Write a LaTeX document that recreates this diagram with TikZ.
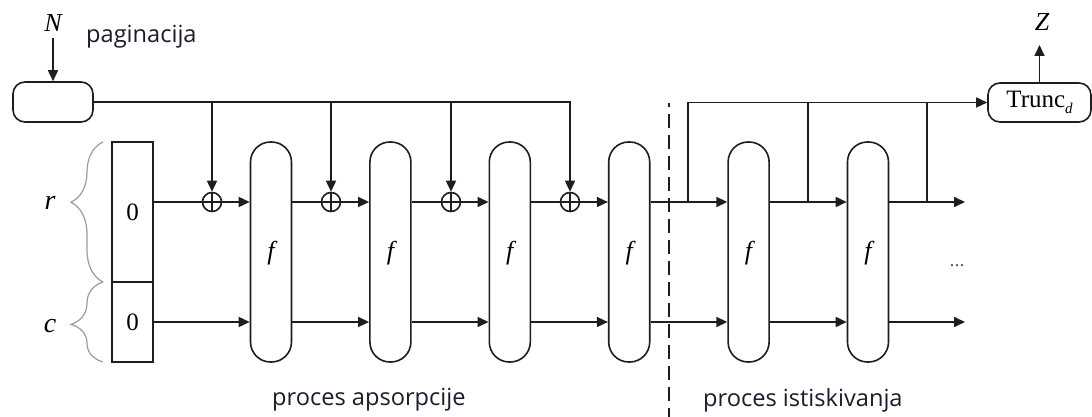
\documentclass[tikz,border=0pt]{standalone}
\usepackage{fontspec}
\setmainfont{Liberation Serif}
\newfontfamily\tms{Liberation Serif}
\newfontfamily\labfont{Open Sans}
\usetikzlibrary{arrows.meta,decorations.pathreplacing}
\definecolor{ink}{HTML}{1E1E1E}
\definecolor{txt}{HTML}{1C1C2C}
\definecolor{bracegray}{HTML}{9C9C9C}
\tikzset{
  ln/.style={draw=ink, line width=1.6pt},
  arr/.style={ln, -{Triangle[length=11pt,width=10pt]}},
  capsule/.style={ln, rectangle, rounded corners=20pt, minimum width=41pt, minimum height=220pt, inner sep=0pt},
  regcell/.style={ln, rectangle, minimum width=41pt, inner sep=0pt},
  pbox/.style={ln, rectangle, rounded corners=12pt, inner sep=0pt},
  xorc/.style={ln, circle, minimum size=19pt, inner sep=0pt,
    path picture={\draw[ink, line width=1.2pt] (path picture bounding box.north) -- (path picture bounding box.south)
      (path picture bounding box.west) -- (path picture bounding box.east);}},
  sym/.style={inner sep=0pt, font=\tms\fontsize{25}{25}\selectfont},
  isym/.style={inner sep=0pt, font=\tms\itshape\fontsize{26}{26}\selectfont},
  lab/.style={inner sep=0pt, anchor=base west, text=txt, font=\labfont\fontsize{23.6}{24}\selectfont},
  brc/.style={draw=bracegray, line width=1.2pt, decorate},
}
\begin{document}
\begin{tikzpicture}[x=1pt,y=-1pt]
\useasboundingbox[fill=white] (0,0) rectangle (1092,417);

% top boxes
\node[pbox, minimum width=80pt, minimum height=40pt] (pad) at (53,102) {};
\node[pbox, minimum width=103pt, minimum height=39pt, font=\tms\fontsize{25}{25}\selectfont] (trunc) at (1039.5,102.5) {Trunc\raisebox{-0.25em}{\fontsize{15}{15}\selectfont\itshape d}};
\node[isym] (N) at (53,23) {N};
\node[isym] (Z) at (1042,22) {Z};
\coordinate (nstart) at (53,38);
\coordinate (zend) at (1039.5,45);
\node[lab] (pag) at (86,43) {paginacija};

% register
\node[regcell, minimum height=140pt, font=\tms\fontsize{25}{25}\selectfont] (regr) at (132.5,212) {0};
\node[regcell, minimum height=80pt, font=\tms\fontsize{25}{25}\selectfont] (regc) at (132.5,322) {0};
\node[isym, font=\tms\itshape\fontsize{28}{28}\selectfont] (rl) at (50,203) {r};
\node[isym, font=\tms\itshape\fontsize{28}{28}\selectfont] (cl) at (50,326) {c};
\draw[brc, decoration={brace, amplitude=32pt, aspect=0.57}] (103,282) -- (103,142);
\draw[brc, decoration={brace, amplitude=32pt, aspect=0.47}] (103,362) -- (103,282);

% capsules
\foreach \i/\x in {1/271,2/390.4,3/509.8,4/629.2,5/748.6,6/868}{
  \node[capsule] (f\i) at (\x,252) {};
  \node[isym] (fl\i) at (\x,253) {f};
}
% xor circles
\foreach \i/\x in {1/212,2/331,3/451,4/570}{
  \node[xorc] (x\i) at (\x,202) {};
}

% padding line
\draw[arr] (pad.east) -| (x4.north);
\draw[arr] (x1 |- pad.east) -- (x1.north);
\draw[arr] (x2 |- pad.east) -- (x2.north);
\draw[arr] (x3 |- pad.east) -- (x3.north);
\draw[arr] (nstart) -- (pad.north);

% absorbing r-line
\draw[ln] (regr.east |- x1.west) -- (x1.west);
\draw[arr] (x1.east) -- (f1.west |- x1.east);
\draw[ln] (f1.east |- x2.west) -- (x2.west);
\draw[arr] (x2.east) -- (f2.west |- x2.east);
\draw[ln] (f2.east |- x3.west) -- (x3.west);
\draw[arr] (x3.east) -- (f3.west |- x3.east);
\draw[ln] (f3.east |- x4.west) -- (x4.west);
\draw[arr] (x4.east) -- (f4.west |- x4.east);
\draw[arr] (f4.east |- x1.east) -- (f5.west |- x1.east);
\draw[arr] (f5.east |- x1.east) -- (f6.west |- x1.east);
\coordinate (out1) at (965,202);
\coordinate (out2) at (965,322);
\draw[arr] (f6.east |- x1.east) -- (out1);

% c-line
\draw[arr] (regc.east) -- (f1.west |- regc.east);
\draw[arr] (f1.east |- regc.east) -- (f2.west |- regc.east);
\draw[arr] (f2.east |- regc.east) -- (f3.west |- regc.east);
\draw[arr] (f3.east |- regc.east) -- (f4.west |- regc.east);
\draw[arr] (f4.east |- regc.east) -- (f5.west |- regc.east);
\draw[arr] (f5.east |- regc.east) -- (f6.west |- regc.east);
\draw[arr] (f6.east |- regc.east) -- (out2);

% squeezing outputs
\coordinate (s1) at (688,202);
\coordinate (s2) at (808,202);
\coordinate (s3) at (927,202);
\draw[arr] (s1) |- (trunc.west);
\draw[ln] (s2) -- (s2 |- trunc.west);
\draw[ln] (s3) -- (s3 |- trunc.west);
\draw[arr] (trunc.north) -- (zend);

% dashed separator
\coordinate (d1) at (669,103);
\coordinate (d2) at (669,417);
\draw[ink, line width=1.6pt, dash pattern=on 14pt off 7pt, dash phase=10pt] (d1) -- (d2);

% dots
\node[sym, text=ink!70, font=\tms\fontsize{20}{20}\selectfont] (dots) at (957,266) {...};

% labels
\node[lab] (abs) at (272,405) {proces apsorpcije};
\node[lab] (sq) at (703,406) {proces istiskivanja};
\end{tikzpicture}
\end{document}
